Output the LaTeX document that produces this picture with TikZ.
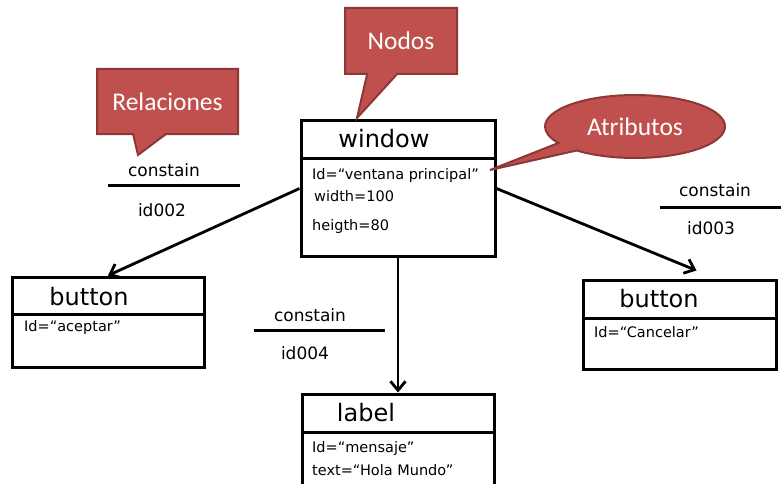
\documentclass[tikz,border=0pt]{standalone}
\usepackage{fontspec}
\usepackage{tikz}
\usetikzlibrary{positioning,shapes.callouts,arrows.meta}
\newfontfamily\boxfont{DejaVu Sans}
\newfontfamily\callfont{Carlito}
\definecolor{calloutFill}{RGB}{192,80,77}
\definecolor{calloutLine}{RGB}{140,56,54}
\tikzset{myBox/.style={draw=black, line width=3pt, rectangle, inner sep=0pt}}
\tikzset{myDivider/.style={line width=3pt, color=black}}
\tikzset{myTitle/.style={font=\boxfont\fontsize{24}{26}\selectfont, inner sep=0pt}}
\tikzset{myAttr/.style={font=\boxfont\fontsize{14.5}{16}\selectfont, anchor=west, inner sep=0pt}}
\tikzset{myRel/.style={font=\boxfont\fontsize{17}{19}\selectfont, inner sep=0pt}}
\tikzset{myArrow/.style={line width=2.8pt, -{Straight Barb[length=9pt,width=15pt]}}}
\tikzset{myCallout/.style={fill=calloutFill, draw=calloutLine, line width=2pt, text=white, font=\callfont\fontsize{25.5}{28}\selectfont}}

\begin{document}
\begin{tikzpicture}[x=1pt, y=-1pt]

	\useasboundingbox (0,0) rectangle (781,484);
	\clip (0,0) rectangle (781,484);

	% boxes
	\node[myBox, minimum width=194pt, minimum height=135pt] (window) at (398,188.5) {};
	\node[myBox, minimum width=192pt, minimum height=90pt] (buttonA) at (108,322) {};
	\node[myBox, minimum width=193pt, minimum height=89pt] (buttonC) at (679.5,324.5) {};
	\node[myBox, minimum width=192pt, minimum height=110pt] (label) at (398,449) {};

	\draw[myDivider](window.west |- 0,158)--(window.east |- 0,158);
	\draw[myDivider](buttonA.west |- 0,314)--(buttonA.east |- 0,314);
	\draw[myDivider](buttonC.west |- 0,318)--(buttonC.east |- 0,318);
	\draw[myDivider](label.west |- 0,432)--(label.east |- 0,432);

	\node[myTitle] (windowTitle) at (384,139) {window};
	\node[myTitle] (buttonATitle) at (89,297) {button};
	\node[myTitle] (buttonCTitle) at (659,299) {button};
	\node[myTitle] (labelTitle) at (366,413) {label};

	\node[myAttr] (windowId) at (312,175) {Id=“ventana principal”};
	\node[myAttr] (windowWidth) at (314,196) {width=100};
	\node[myAttr] (windowHeight) at (312,226) {heigth=80};
	\node[myAttr] (buttonAId) at (24,327) {Id=“aceptar”};
	\node[myAttr] (buttonCId) at (594,332) {Id=“Cancelar”};
	\node[myAttr] (labelId) at (312,448) {Id=“mensaje”};
	\node[myAttr] (labelText) at (312,470) {text=“Hola Mundo”};

	% relations
	\coordinate (tipC) at ([xshift=17pt,yshift=8pt]buttonC.north);
	\draw[myArrow](window.west)--(buttonA.north);
	\draw[myArrow](window.east)--(tipC);
	\draw[myArrow](window.south)--(label.north);

	\node[myRel] (relA) at (164,170) {constain};
	\draw[myDivider](108,185)--(240,185);
	\node[myRel] (idA) at (162,210) {id002};

	\node[myRel] (relC) at (715,190) {constain};
	\draw[myDivider](660,207)--(781,207);
	\node[myRel] (idC) at (711,228) {id003};

	\node[myRel] (relL) at (310,315) {constain};
	\draw[myDivider](254,330)--(385,330);
	\node[myRel] (idL) at (305,353) {id004};

	% callouts
	\node[myCallout, rectangle callout, minimum width=141pt, minimum height=65pt,
		callout absolute pointer={(138,155)}, callout pointer width=33pt] (relaciones) at (167.5,101.5) {Relaciones};
	\node[myCallout, rectangle callout, minimum width=112pt, minimum height=66pt,
		callout absolute pointer={(357,118)}, callout pointer width=30pt] (nodos) at (401,41) {Nodos};
	\node[myCallout, ellipse callout, minimum width=180pt, minimum height=63pt,
		callout absolute pointer={(490,170)}, callout pointer arc=18] (atributos) at (635,126.5) {Atributos};

\end{tikzpicture}
\end{document}
